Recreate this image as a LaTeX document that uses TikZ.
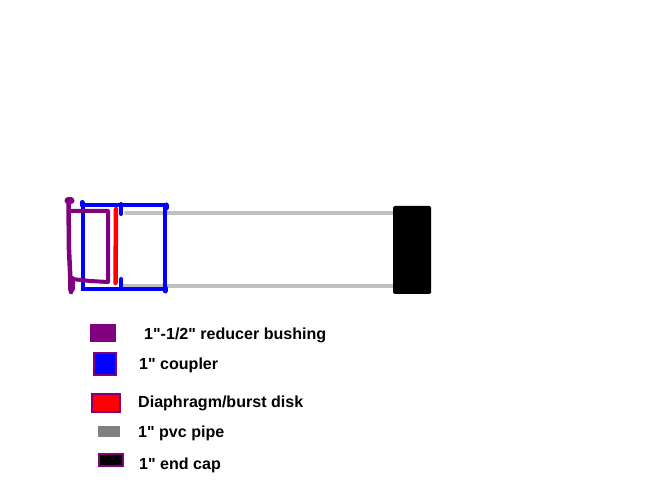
\documentclass[tikz,border=0pt]{standalone}
\usepackage{fontspec}
\setmainfont{Liberation Sans}[Ligatures=TeXOff]
\definecolor{pur}{HTML}{800080}
\definecolor{blu}{HTML}{0000FF}
\definecolor{rd}{HTML}{FF0000}
\definecolor{pipeg}{HTML}{C0C0C0}
\definecolor{legg}{HTML}{808080}
\tikzset{
  paint/.style={line width=4pt,line cap=round,line join=round},
  swatch/.style={draw=pur,line width=2pt},
  lab/.style={anchor=west,inner sep=0pt,font=\bfseries\fontsize{16.05}{18}\selectfont,text=black}
}
\begin{document}
\begin{tikzpicture}[x=1pt,y=-1pt]
\useasboundingbox (0,0) rectangle (648,486);
% pipes
\draw[paint,pipeg] (126,213) -- (394,213);
\draw[paint,pipeg] (122,286) -- (394,286);
% end cap
\fill[black,rounded corners=1.5pt] (393,206) rectangle (431,294);
% coupler
\draw[line width=4pt,blu,line join=miter] (83,205) rectangle (165,289);
\draw[paint,blu,line width=5pt] (82,202.5) -- (82,205);
\draw[paint,blu,line width=5pt] (166,205) -- (166,208);
\draw[paint,blu,line width=5pt] (165,288) -- (165,291);
\draw[paint,blu] (121,204) -- (121,214);
\draw[paint,blu] (121,279) -- (121,289);
% diaphragm
\draw[paint,rd,line width=4.5pt] (116,209) -- (115.5,283);
% bushing
\draw[paint,pur,line width=4.5pt] (68.5,200) -- (69,250) -- (71,292);
\draw[paint,pur,line width=7pt] (68,201) -- (71,201);
\draw[paint,pur,line width=7pt] (71,279) -- (71,289);
\draw[paint,pur] (70,211) -- (108,211) -- (108,282) -- (90,281) -- (72,279);
% legend
\node[fill=pur,minimum width=26pt,minimum height=18pt,inner sep=0pt,anchor=north west] (s1) at (90,324) {};
\node[swatch,fill=blu,minimum width=22pt,minimum height=22pt,inner sep=0pt] (s2) at (105,363.5) {};
\node[swatch,fill=rd,minimum width=28pt,minimum height=18pt,inner sep=0pt] (s3) at (106,403) {};
\node[fill=legg,minimum width=22pt,minimum height=11pt,inner sep=0pt] (s4) at (109,431.5) {};
\node[swatch,fill=black,minimum width=24pt,minimum height=12pt,inner sep=0pt] (s5) at (111,460) {};
\node[lab] (t1) at (144,335) {1"-1/2" reducer bushing};
\node[lab] (t2) at (139,365.5) {1" coupler};
\node[lab] (t3) at (138,403.5) {Diaphragm/burst disk};
\node[lab] (t4) at (138,433.5) {1" pvc pipe};
\node[lab] (t5) at (139,465.5) {1" end cap};
\end{tikzpicture}
\end{document}
